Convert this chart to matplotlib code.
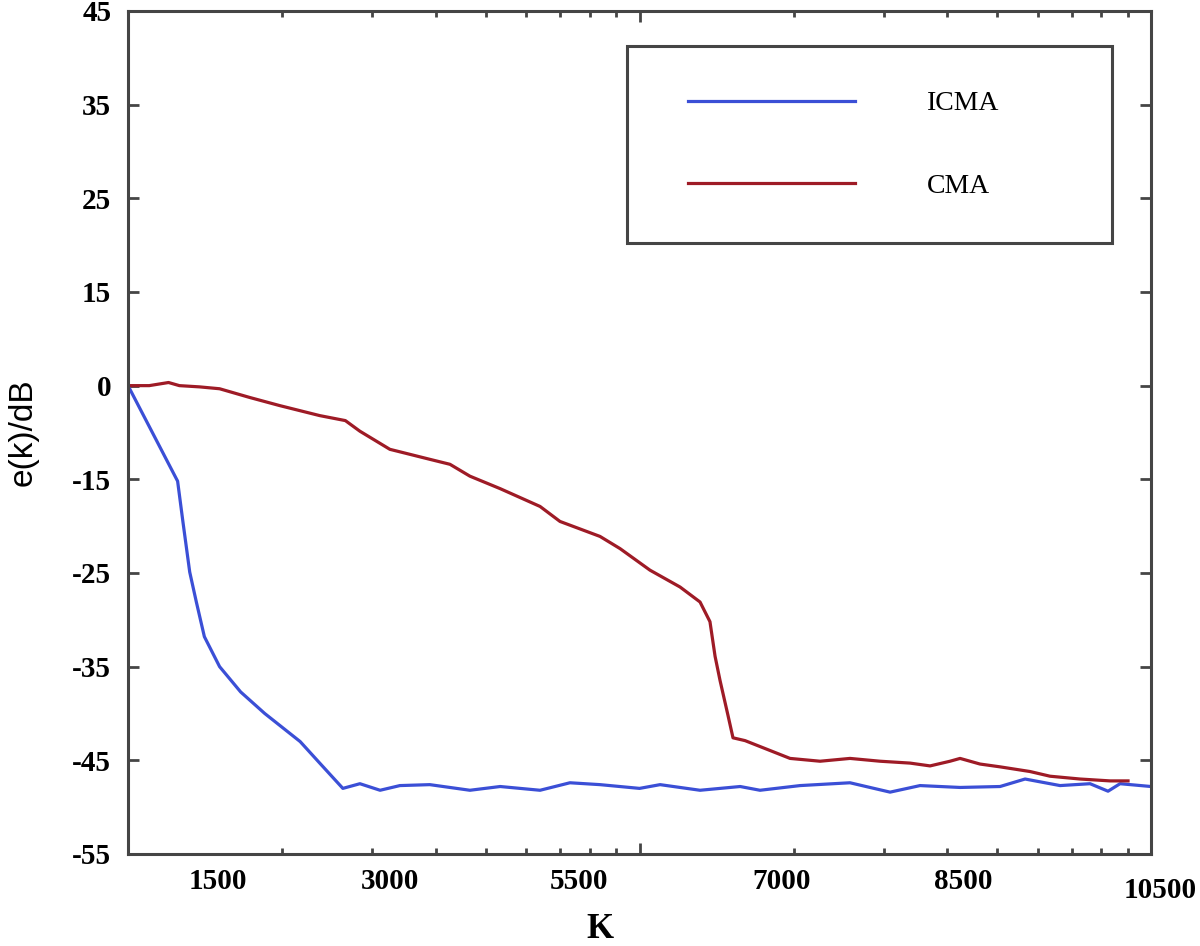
import numpy as np
import matplotlib
matplotlib.use("Agg")
import matplotlib.pyplot as plt
from matplotlib.lines import Line2D
from matplotlib.legend_handler import HandlerLine2D
from matplotlib.ticker import FixedLocator, LogLocator, NullFormatter

# ICMA curve (blue)
k_icma = [100, 125, 128, 132, 136, 141, 151, 166, 185, 217, 237, 263, 284, 311, 340,
          389, 466, 534, 639, 731, 837, 1000, 1097, 1313, 1573, 1720, 2060, 2579,
          2822, 3089, 3535, 4233, 5068, 5672, 6640, 7599, 8240, 8698, 10000]
e_icma = [0, -15.2, -19.5, -24.9, -28.1, -31.8, -35.0, -37.7, -40.0, -43.0, -45.3,
          -48.0, -47.5, -48.2, -47.7, -47.6, -48.2, -47.8, -48.2, -47.4, -47.6, -48.0,
          -47.6, -48.2, -47.8, -48.2, -47.7, -47.4, -47.9, -48.4, -47.7, -47.9, -47.8,
          -47.0, -47.7, -47.5, -48.3, -47.5, -47.8]

# CMA curve (dark red)
k_cma = [100, 110, 120, 126, 138, 151, 173, 198, 237, 266, 284, 325, 340, 389, 426,
         466, 534, 639, 699, 837, 916, 1048, 1200, 1313, 1373, 1405, 1437, 1489, 1523,
         1608, 1969, 2254, 2579, 2953, 3380, 3698, 4046, 4233, 4630, 5068, 5800, 6346,
         7265, 8315, 9016]
e_cma = [0, 0, 0.5, 0, -0.2, -0.5, -1.9, -3.2, -4.8, -5.6, -7.3, -10.2, -10.6, -11.8,
         -12.6, -14.5, -16.0, -17.9, -19.5, -21.1, -22.4, -24.7, -26.5, -28.1, -30.2,
         -33.9, -36.5, -40.2, -42.6, -42.9, -44.8, -45.1, -44.8, -45.1, -45.3, -45.6,
         -45.1, -44.8, -45.4, -45.7, -46.2, -46.7, -47.0, -47.2, -47.2]

# axis labels as printed
y_ticks = [45, 35, 25, 15, 0, -15, -25, -35, -45, -55]
x_labels = ["1500", "3000", "5500", "7000", "8500", "10500"]
x_label_pos = [150, 325, 760, 1900, 4300, 10400]

blue = "#3b4fd6"
red = "#9e1b26"
spine_col = "#454545"

# y axis has evenly spaced but unevenly numbered ticks
y_asc = y_ticks[::-1]
idx = np.arange(len(y_asc))
def fwd(y):
    return np.interp(y, y_asc, idx)
def inv(i):
    return np.interp(i, idx, y_asc)

fig = plt.figure(figsize=(12, 9.46), dpi=100)
ax = fig.add_axes([0.1067, 0.0973, 0.8525, 0.8911])

ax.plot(k_icma, e_icma, color=blue, lw=2.3, label="ICMA")
ax.plot(k_cma, e_cma, color=red, lw=2.3, label="CMA")

ax.set_xscale("log")
ax.set_xlim(100, 10000)
ax.set_yscale("function", functions=(fwd, inv))
ax.set_ylim(-55, 45)

ax.yaxis.set_major_locator(FixedLocator(y_ticks))
ax.set_yticklabels([str(v) for v in y_ticks])
ax.xaxis.set_major_locator(FixedLocator([1000]))
ax.xaxis.set_major_formatter(NullFormatter())
ax.xaxis.set_minor_locator(LogLocator(base=10, subs=np.arange(2, 10)))
ax.xaxis.set_minor_formatter(NullFormatter())

for s in ax.spines.values():
    s.set_color(spine_col)
    s.set_linewidth(2.2)
ax.tick_params(axis="y", direction="in", length=8, width=2, color=spine_col,
               right=True, pad=12)
ax.tick_params(axis="x", which="major", direction="in", length=8, width=2,
               color=spine_col, top=True)
ax.tick_params(axis="x", which="minor", direction="in", length=4, width=2,
               color=spine_col, top=True)
for lab in ax.get_yticklabels():
    lab.set_fontfamily("Liberation Serif")
    lab.set_fontweight("bold")
    lab.set_fontsize(21)

xt = ax.get_xaxis_transform()
for pos, lab in zip(x_label_pos, x_labels):
    dy = -0.043 if lab == "10500" else -0.033
    ax.text(pos, dy, lab, transform=xt, ha="center", va="center",
            fontfamily="Liberation Serif", fontweight="bold", fontsize=21)

ax.text(0.461, -0.09, "K", transform=ax.transAxes, ha="center", va="center",
        fontfamily="Liberation Serif", fontweight="bold", fontsize=25)
ax.set_ylabel("e(k)/dB", fontfamily="Liberation Sans", fontsize=24, labelpad=24)

# legend box is wide, handles start a bit in from the left edge
leg = ax.legend(loc="upper left", bbox_to_anchor=(0.488, 0.5, 0.474, 0.458),
                mode="expand", borderaxespad=0,
                handlelength=6.6, handletextpad=2.6, labelspacing=2.05,
                borderpad=1.6, fancybox=False,
                handler_map={Line2D: HandlerLine2D(xpad=0.58)},
                prop={"family": "Liberation Serif", "size": 20})
leg.get_frame().set_edgecolor(spine_col)
leg.get_frame().set_linewidth(2.2)
leg.get_frame().set_alpha(1)

fig.savefig("out.png", dpi=100)
